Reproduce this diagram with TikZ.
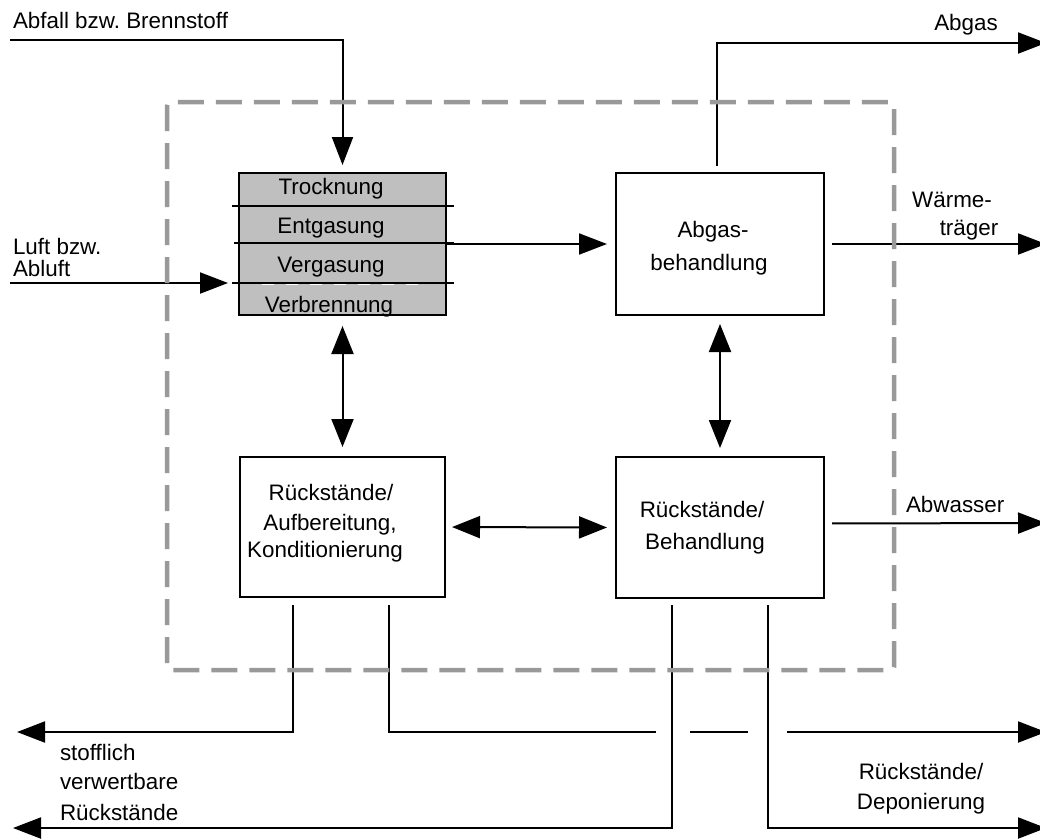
\documentclass[tikz,border=0pt]{standalone}
\usepackage{fontspec}
\setmainfont{Liberation Sans}
\usetikzlibrary{arrows.meta,calc}
\frenchspacing
\begin{document}
\begin{tikzpicture}[x=1pt,y=-1pt,
  font=\fontsize{22.4}{26}\selectfont,
  line width=2pt,
  box/.style={draw, line width=2pt, inner sep=0pt, outer sep=0pt, anchor=north west},
  arr/.style={-{Triangle[length=28pt,width=21pt]}},
  dbl/.style={{Triangle[length=28pt,width=22pt]}-{Triangle[length=28pt,width=22pt]}},
  txt/.style={inner sep=0pt, anchor=base},
  ltxt/.style={inner sep=0pt, anchor=base west},
  frame/.style={draw=black!40, line width=4.5pt, dash pattern=on 26pt off 12pt, rounded corners=3pt}]
\clip (0,0) rectangle (1040,839);
\fill[white] (0,0) rectangle (1040,839);

% process blocks
\node[box, fill=black!25, minimum width=207pt, minimum height=142pt] (stages) at (239,173) {};
\node[box, minimum width=208pt, minimum height=142pt] (abgasbeh) at (616,173) {};
\node[box, minimum width=205pt, minimum height=140pt] (aufb) at (240,457) {};
\node[box, minimum width=208pt, minimum height=141pt] (behand) at (616,457) {};

% stage dividers
\draw (232,206) -- (454,206);
\draw (234,243) -- (454,243);
\draw (232,283) -- (454,283);
\draw[white, line width=0.8pt, dash pattern=on 12pt off 12pt] (262,284.6) -- (420,284.6);

% stage names
\node[txt] (t1) at (331,194) {Trocknung};
\node[txt] (t2) at (331,233) {Entgasung};
\node[txt] (t3) at (331,272) {Vergasung};
\node[txt] (t4) at (329,312) {Verbrennung};

% block texts
\node[txt] (ab1) at (713,237) {Abgas-};
\node[txt] (ab2) at (709,270) {behandlung};
\node[txt] (au1) at (331,500) {Rückstände/};
\node[txt] (au2) at (330,530) {Aufbereitung,};
\node[txt] (au3) at (325,557) {Konditionierung};
\node[txt] (be1) at (702,517) {Rückstände/};
\node[txt] (be2) at (705,549) {Behandlung};

% inputs
\coordinate (abfallin) at (10,40);
\coordinate (luftin) at (10,283);
\draw[arr, shorten >=8pt] (abfallin) -| (stages.north);
\draw[arr, shorten >=11pt] (luftin) -- (luftin -| stages.west);
\node[ltxt] (labfall) at (12,28) {Abfall bzw. Brennstoff};
\node[ltxt] (lluft1) at (12,254) {Luft bzw.};
\node[ltxt] (lluft2) at (12,276) {Abluft};

% internal flows
\draw[arr, shorten >=9pt] (stages.east) -- (abgasbeh.west);
\draw[dbl, shorten <=11pt, shorten >=10pt] (stages.south) -- (aufb.north);
\draw[dbl, shorten <=9pt, shorten >=9pt] (abgasbeh.south) -- (behand.north);
\draw[dbl, shorten <=7pt, shorten >=9pt] (aufb.east) -- (behand.west);

% outputs to the right
\coordinate (abgasout) at (1046,43);
\coordinate (waermeout) at (1046,244);
\coordinate (abwasserout) at (1046,523);
\draw[arr] ([xshift=-3pt,yshift=7pt]abgasbeh.north) |- (abgasout);
\draw[arr, shorten <=8pt] (abgasbeh.east) -- (waermeout);
\draw[arr, shorten <=8pt] ([yshift=4pt]behand.east) -- (abwasserout);
\node[txt] (labgas) at (966,30) {Abgas};
\node[txt] (lwaerme1) at (952,207) {Wärme-};
\node[txt] (lwaerme2) at (969,235) {träger};
\node[ltxt] (labwasser) at (905,512) {Abwasser};

% residue outputs
\coordinate (stoffout) at (17,732);
\coordinate (jumpAin) at (656,732);
\coordinate (jumpAout) at (690,732);
\coordinate (jumpBin) at (748,732);
\coordinate (jumpBout) at (787,732);
\coordinate (depoout1) at (1046,732);
\coordinate (rueckout) at (13,828);
\coordinate (depoout2) at (1046,828);
\draw[arr] ([xshift=-49.5pt,yshift=-8pt]aufb.south) |- (stoffout);
\draw ([xshift=46.5pt,yshift=-8pt]aufb.south) |- (jumpAin);
\draw (jumpAout) -- (jumpBin);
\draw[arr] (jumpBout) -- (depoout1);
\draw[arr] ([xshift=-48pt,yshift=-7pt]behand.south) |- (rueckout);
\draw[arr] ([xshift=48pt,yshift=-7pt]behand.south) |- (depoout2);
\node[ltxt] (ls1) at (59,760) {stofflich};
\node[ltxt] (ls2) at (59,789) {verwertbare};
\node[ltxt] (ls3) at (59,820) {Rückstände};
\node[txt] (ld1) at (921,779) {Rückstände/};
\node[txt] (ld2) at (921,809) {Deponierung};

% plant boundary
\draw[frame] (167,102) rectangle (894,670);
\end{tikzpicture}
\end{document}
